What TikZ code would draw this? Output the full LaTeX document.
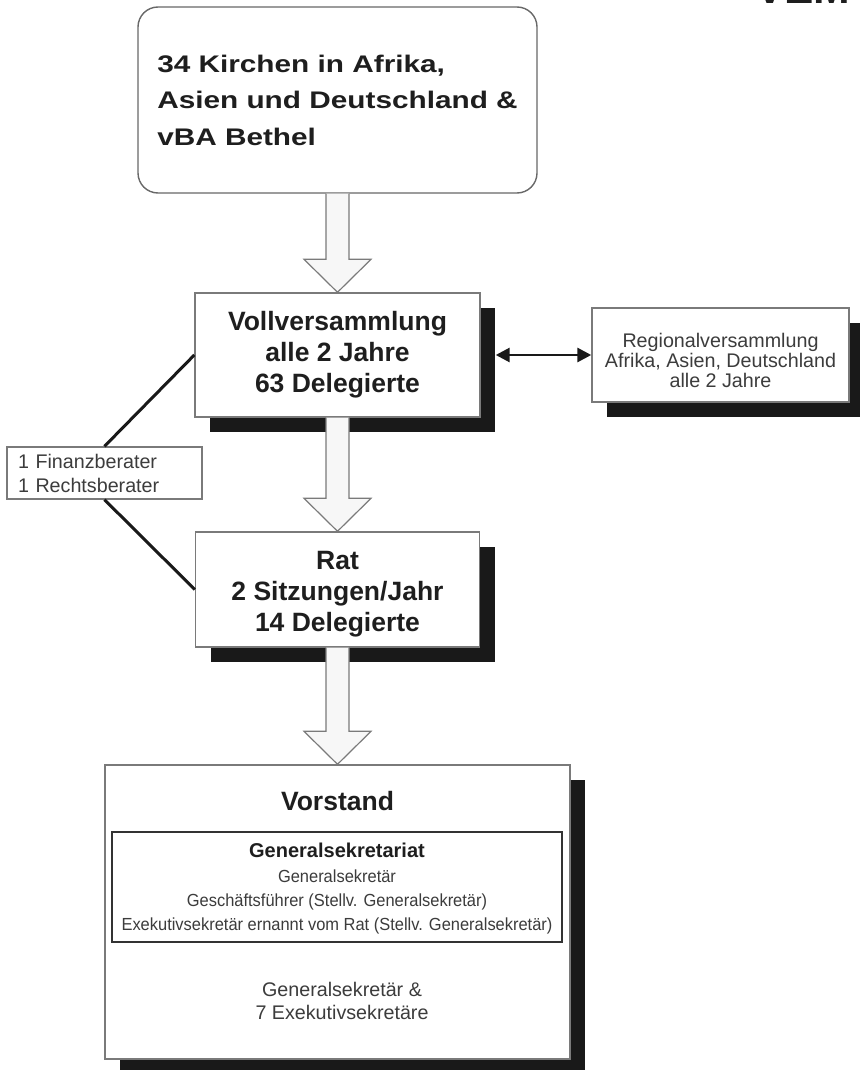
\documentclass[tikz,border=0pt]{standalone}
\usepackage{fontspec}
\setmainfont{Liberation Sans}
\newfontfamily\widefont[FakeStretch=1.24]{Liberation Sans}
\newfontfamily\narrowfont[FakeStretch=0.94]{Liberation Sans}
\usetikzlibrary{calc,shadows,arrows.meta}
\definecolor{txt}{HTML}{1E1E1E}
\definecolor{txtl}{HTML}{3C3C3C}
\definecolor{edge}{HTML}{7A7A7A}
\newcommand{\blockarrow}[2]{%
  \draw[blockarrow] ($(#1.south)+(-11.5,0)$) -- ($(#2.north)+(-11.5,-33)$)
    -- ($(#2.north)+(-33.5,-33)$) -- (#2.north) -- ($(#2.north)+(33.5,-33)$)
    -- ($(#2.north)+(11.5,-33)$) -- ($(#1.south)+(11.5,0)$);}
\begin{document}
\begin{tikzpicture}[x=1pt,y=-1pt,
  box/.style={draw=edge, line width=1.4pt, fill=white, inner sep=0pt, align=center},
  shadowed/.style={general shadow={fill=black!90, shadow xshift=15pt, shadow yshift=-15pt}},
  blockarrow/.style={draw=edge, fill=gray!6, line width=1.2pt, line join=miter},
  boldtxt/.style={font=\bfseries\fontsize{26.5}{31}\selectfont, text=txt},
  plaintxt/.style={font=\fontsize{19.7}{20}\selectfont, text=txtl},
  link/.style={line width=3pt, draw=black!90}]
\useasboundingbox (0,0) rectangle (859,1070);

\node[anchor=base west, inner sep=0pt, font=\bfseries\fontsize{44}{44}\selectfont, text=txt] (vem) at (755,4) {VEM};

\node[box, draw=edge!85!black, rounded corners=20pt, minimum width=399pt, minimum height=186pt,
      align=left, font=\widefont\bfseries\fontsize{24}{36.5}\selectfont, text=txt] (kirchen) at (337.5,100)
  {34 Kirchen in Afrika,\\Asien und Deutschland \&\\vBA Bethel};

\node[box, shadowed, boldtxt, minimum width=285pt, minimum height=124pt] (voll) at (337.5,355)
  {Vollversammlung\\alle 2 Jahre\\63 Delegierte};

\node[box, shadowed, plaintxt, minimum width=257pt, minimum height=94pt] (reg) at (720.5,355)
  {\rule{0pt}{25pt}Regionalversammlung\\Afrika, Asien, Deutschland\\alle 2 Jahre};

\node[box, minimum height=52pt, text width=173pt, inner xsep=11pt, align=left,
      font=\fontsize{19.7}{24}\selectfont, text=txtl] (fin) at (104.5,473)
  {1 Finanzberater\\1 Rechtsberater};

\node[box, shadowed, boldtxt, minimum width=284pt, minimum height=115pt] (rat) at (337.5,589.5)
  {\rule{0pt}{27pt}Rat\\2 Sitzungen/Jahr\\14 Delegierte};

\node[box, shadowed, minimum width=465pt, minimum height=294pt] (vorstand) at (337.5,912) {};
\node[boldtxt, anchor=base, inner sep=0pt] (vtitle) at (337.5,810) {Vorstand};
\node[draw=black!80, line width=1.8pt, minimum width=450pt, minimum height=110pt, inner sep=0pt,
      align=center, font=\narrowfont\fontsize{17.5}{24.3}\selectfont, text=txtl] (gs) at (337,887)
  {{\color{txt}\normalfont\bfseries\fontsize{20}{24.3}\selectfont\rule{0pt}{18pt}Generalsekretariat}\\Generalsekretär\\Geschäftsführer (Stellv. Generalsekretär)\\Exekutivsekretär ernannt vom Rat (Stellv. Generalsekretär)};
\node[align=center, font=\fontsize{19.7}{23}\selectfont, text=txtl, inner sep=0pt] (vtext) at (342,1001)
  {Generalsekretär \&\\7 Exekutivsekretäre};

\blockarrow{kirchen}{voll}
\blockarrow{voll}{rat}
\blockarrow{rat}{vorstand}

\draw[link] (fin.north) -- (voll.west);
\draw[link] (fin.south) -- (rat.west);
\draw[line width=2.8pt, draw=black!90, {Triangle[length=14pt,width=14pt]}-{Triangle[length=14pt,width=14pt]}]
  ($(voll.east)+(15,0)$) -- (reg.west);
\end{tikzpicture}
\end{document}
